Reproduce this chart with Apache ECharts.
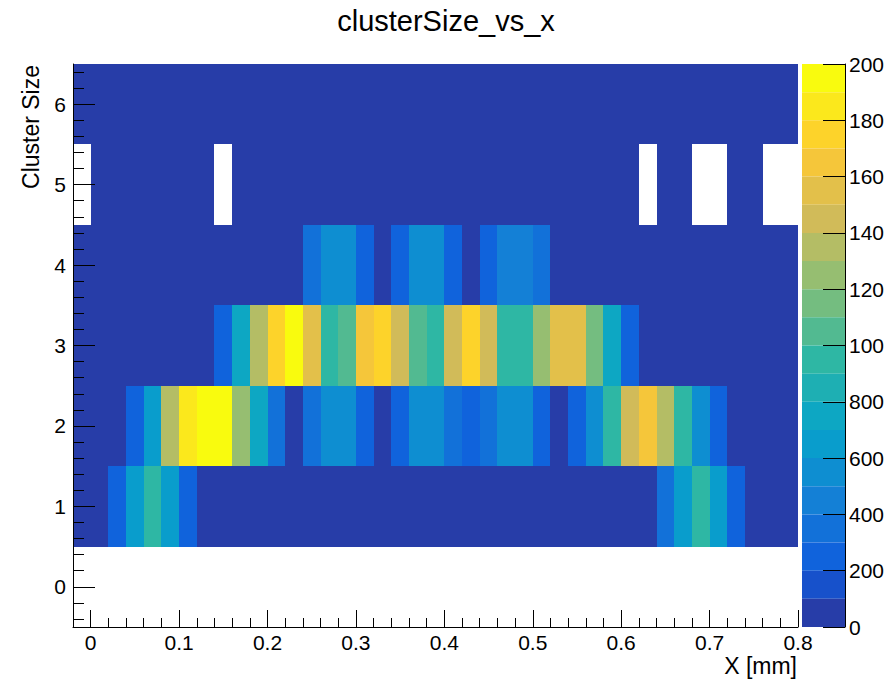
<!DOCTYPE html>
<html>
<head>
<meta charset="utf-8">
<title>clusterSize_vs_x</title>
<script src="https://cdn.jsdelivr.net/npm/echarts@6.0.0/dist/echarts.min.js"></script>
<style>
  html, body { margin: 0; padding: 0; background: #fff; }
  #main { width: 892px; height: 679px; }
</style>
</head>
<body>
<div id="main"></div>
<script>
// x binning: 41 bins of 0.02 mm starting at -0.02
var xMin = -0.02
var xMax = 0.8
var binWidth = 0.02
var yRows = [1, 2, 3, 4, 5, 6]

// bin contents per cluster size (left to right, one entry per x bin)
var row1 = [50, 50, 250, 650, 950, 650, 250, 50, 50, 50,
            50, 50, 50, 50, 50, 50, 50, 50, 50, 50,
            50, 50, 50, 50, 50, 50, 50, 50, 50, 50,
            50, 50, 50, 300, 650, 950, 600, 200, 50, 50,
            50]
var row2 = [50, 50, 50, 250, 650, 1350, 1850, 1950, 1900, 1250,
            700, 350, 50, 350, 550, 550, 250, 50, 200, 550,
            500, 300, 200, 300, 500, 550, 250, 50, 200, 550,
            950, 1450, 1600, 1350, 950, 550, 200, 50, 50, 50,
            50]
var row3 = [50, 50, 50, 50, 50, 50, 50, 50, 250, 700,
            1350, 1750, 1900, 1550, 950, 1000, 1600, 1750, 1450, 1000,
            900, 1450, 1750, 1450, 950, 950, 1250, 1550, 1550, 1150,
            700, 250, 50, 50, 50, 50, 50, 50, 50, 50,
            50]
var row4 = [50, 50, 50, 50, 50, 50, 50, 50, 50, 50,
            50, 50, 50, 300, 550, 500, 250, 50, 200, 500,
            500, 250, 50, 250, 450, 450, 300, 50, 50, 50,
            50, 50, 50, 50, 50, 50, 50, 50, 50, 50,
            50]
var row5 = [0, 50, 50, 50, 50, 50, 50, 50, 0, 50,
            50, 50, 50, 50, 50, 50, 50, 50, 50, 50,
            50, 50, 50, 50, 50, 50, 50, 50, 50, 50,
            50, 50, 0, 50, 50, 0, 0, 50, 50, 0,
            0]
var row6 = [50, 50, 50, 50, 50, 50, 50, 50, 50, 50,
            50, 50, 50, 50, 50, 50, 50, 50, 50, 50,
            50, 50, 50, 50, 50, 50, 50, 50, 50, 50,
            50, 50, 50, 50, 50, 50, 50, 50, 50, 50,
            50]
var rows = [row1, row2, row3, row4, row5, row6]

var xTicks = [0, 0.1, 0.2, 0.3, 0.4, 0.5, 0.6, 0.7, 0.8]
var yTicks = [0, 1, 2, 3, 4, 5, 6]
var zTicks = [0, 200, 400, 600, 800, 1000, 1200, 1400, 1600, 1800, 2000]
var zTickLabels = ['0', '200', '400', '600', '800', '100', '120', '140', '160', '180', '200']

// minor ticks every 0.02 on x and 0.2 on y
var xMinor = []
for (var i = 0; i <= 41; i++) xMinor.push(Math.round((xMin + i * binWidth) * 1000) / 1000)
var yMinor = []
for (var j = 0; j <= 34; j++) yMinor.push(Math.round((-0.4 + j * 0.2) * 10) / 10)

// ROOT kBird palette, 20 contour bands
var birdStops = [0.0, 0.125, 0.25, 0.375, 0.5, 0.625, 0.75, 0.875, 1.0]
var birdR = [0.2082, 0.0592, 0.0780, 0.0232, 0.1802, 0.5301, 0.8186, 0.9956, 0.9764]
var birdG = [0.1664, 0.3599, 0.5041, 0.6419, 0.7178, 0.7492, 0.7328, 0.7862, 0.9832]
var birdB = [0.5293, 0.8684, 0.8385, 0.7914, 0.6425, 0.4662, 0.3499, 0.1968, 0.0539]
function bird(p) {
    var s = 1
    while (s < birdStops.length - 1 && p > birdStops[s]) s++
    var t = (p - birdStops[s - 1]) / (birdStops[s] - birdStops[s - 1])
    function c(a) { return Math.round((a[s - 1] + (a[s] - a[s - 1]) * t) * 255) }
    return 'rgb(' + c(birdR) + ',' + c(birdG) + ',' + c(birdB) + ')'
}
var nBands = 20
var pieces = []
for (var b = 0; b < nBands; b++) {
    var idx = Math.floor((b + 0.99) * 255 / nBands)
    var piece = { gte: b * 100, lt: (b + 1) * 100, color: bird(Math.min(idx / 254, 1)) }
    if (b === nBands - 1) { delete piece.lt; piece.lte = 2000 }
    pieces.push(piece)
}

var data = []
for (var r = 0; r < rows.length; r++) {
    for (var k = 0; k < rows[r].length; k++) {
        data.push([xMin + binWidth * (k + 0.5), yRows[r], rows[r][k]])
    }
}

var font = '"Liberation Sans", Arial, sans-serif'
var myChart = echarts.init(document.getElementById('main'), null, { renderer: 'svg' })
var option = {
    backgroundColor: '#fff',
    animation: false,
    textStyle: { fontFamily: font, color: '#000' },
    title: {
        text: 'clusterSize_vs_x',
        left: 'center',
        top: 6,
        padding: 0,
        textStyle: { fontFamily: font, fontSize: 29, fontWeight: 'normal', color: '#000' }
    },
    grid: [
        { left: 73, top: 64, width: 725, height: 563, outerBoundsMode: 'none' },
        { left: 802, top: 64, width: 43, height: 563, outerBoundsMode: 'none' }
    ],
    xAxis: [
        {
            type: 'value', gridIndex: 0, min: xMin, max: xMax, position: 'bottom', z: 10,
            axisLine: { show: true, onZero: false, lineStyle: { color: '#000', width: 1 } },
            axisTick: { show: true, inside: true, length: 17, customValues: xTicks, lineStyle: { color: '#000' } },
            axisLabel: { show: true, customValues: xTicks, margin: 5, fontSize: 21, color: '#000', fontFamily: font },
            splitLine: { show: false }
        },
        {
            type: 'value', gridIndex: 0, min: xMin, max: xMax, position: 'bottom', z: 10,
            axisLine: { show: false, onZero: false },
            axisTick: { show: true, inside: true, length: 9, customValues: xMinor, lineStyle: { color: '#000' } },
            axisLabel: { show: false },
            splitLine: { show: false }
        },
        {
            type: 'value', gridIndex: 1, min: 0, max: 1, show: false
        }
    ],
    yAxis: [
        {
            type: 'value', gridIndex: 0, min: -0.5, max: 6.5, position: 'left', z: 10,
            axisLine: { show: true, onZero: false, lineStyle: { color: '#000', width: 1 } },
            axisTick: { show: true, inside: true, length: 22, customValues: yTicks, lineStyle: { color: '#000' } },
            axisLabel: { show: true, customValues: yTicks, margin: 7, fontSize: 21, color: '#000', fontFamily: font },
            splitLine: { show: false }
        },
        {
            type: 'value', gridIndex: 0, min: -0.5, max: 6.5, position: 'left', z: 10,
            axisLine: { show: false, onZero: false },
            axisTick: { show: true, inside: true, length: 11, customValues: yMinor, lineStyle: { color: '#000' } },
            axisLabel: { show: false },
            splitLine: { show: false }
        },
        {
            type: 'value', gridIndex: 1, min: 0, max: 2000, interval: 200, position: 'right', z: 10,
            axisLine: { show: true, onZero: false, lineStyle: { color: '#000', width: 1 } },
            axisTick: { show: true, inside: true, length: 22, lineStyle: { color: '#000' } },
            axisLabel: {
                show: true, margin: 4, fontSize: 21, color: '#000', fontFamily: font,
                formatter: function (v) { return zTickLabels[zTicks.indexOf(v)] }
            },
            splitLine: { show: false }
        }
    ],
    visualMap: {
        type: 'piecewise',
        dimension: 2,
        seriesIndex: 0,
        pieces: pieces,
        orient: 'vertical',
        left: 802,
        top: 64,
        itemWidth: 43,
        itemHeight: 563 / nBands,
        itemGap: 0,
        itemSymbol: 'rect',
        showLabel: false,
        padding: 0,
        hoverLink: false,
        selectedMode: false
    },
    graphic: [
        {
            type: 'text', x: 31, y: 127, rotation: Math.PI / 2,
            style: { text: 'Cluster Size', fontSize: 23, fontFamily: font, fill: '#000', align: 'center', verticalAlign: 'middle' }
        },
        {
            type: 'text', x: 797, y: 666,
            style: { text: 'X [mm]', fontSize: 23, fontFamily: font, fill: '#000', align: 'right', verticalAlign: 'middle' }
        }
    ],
    series: [
        {
            type: 'custom',
            name: 'clusterSize_vs_x',
            xAxisIndex: 0,
            yAxisIndex: 0,
            encode: { x: 0, y: 1 },
            data: data,
            renderItem: function (params, api) {
                var v = api.value(2)
                if (!v) return null
                var p0 = api.coord([api.value(0) - binWidth / 2, api.value(1) + 0.5])
                var p1 = api.coord([api.value(0) + binWidth / 2, api.value(1) - 0.5])
                var x0 = Math.round(p0[0]), y0 = Math.round(p0[1])
                var x1 = Math.round(p1[0]), y1 = Math.round(p1[1])
                return {
                    type: 'rect',
                    shape: { x: x0, y: y0, width: x1 - x0, height: y1 - y0 },
                    style: { fill: api.visual('color') }
                }
            }
        }
    ]
}
myChart.setOption(option, true)
</script>
</body>
</html>
